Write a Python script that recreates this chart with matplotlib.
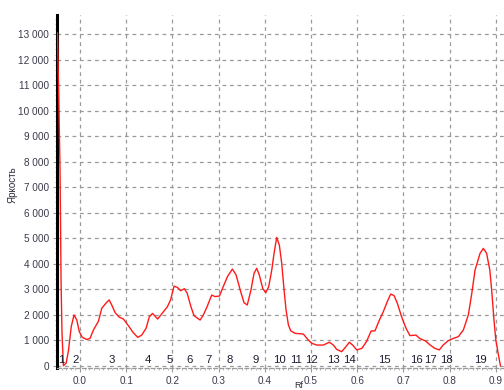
import matplotlib
matplotlib.use("Agg")
import matplotlib.pyplot as plt
from matplotlib.ticker import FuncFormatter, MultipleLocator

plt.rcParams['font.family'] = ['Liberation Sans', 'DejaVu Sans']

# Densitogram track: Rf position vs. brightness
rf = [-0.049, -0.046, -0.0433, -0.041, -0.039, -0.036, -0.030, -0.025, -0.019,
      -0.013, -0.007, -0.0015, 0.005, 0.0145, 0.0216, 0.029, 0.040, 0.047,
      0.056, 0.063, 0.0686, 0.076, 0.085, 0.094, 0.105, 0.115, 0.125, 0.1335,
      0.143, 0.150, 0.157, 0.168, 0.179, 0.189, 0.196, 0.2035, 0.2106, 0.218,
      0.2258, 0.232, 0.2396, 0.2468, 0.260, 0.267, 0.2756, 0.285, 0.292,
      0.3016, 0.310, 0.319, 0.3298, 0.3377, 0.3478, 0.355, 0.362, 0.370,
      0.3766, 0.3824, 0.388, 0.3955, 0.402, 0.4084, 0.415, 0.420, 0.4257,
      0.4314, 0.4366, 0.4416, 0.446, 0.451, 0.456, 0.4654, 0.4834, 0.494,
      0.5015, 0.512, 0.5266, 0.5397, 0.5483, 0.5556, 0.5664, 0.5757, 0.583,
      0.590, 0.599, 0.610, 0.620, 0.630, 0.6385, 0.648, 0.6565, 0.665,
      0.6725, 0.6797, 0.6868, 0.696, 0.7056, 0.714, 0.727, 0.736, 0.747,
      0.758, 0.768, 0.7777, 0.786, 0.797, 0.808, 0.819, 0.8297, 0.8405,
      0.848, 0.855, 0.866, 0.873, 0.880, 0.887, 0.891, 0.896, 0.900, 0.905,
      0.910]
brightness = [13050, 10500, 7670, 3230, 1270, 0, 100, 600, 1530,
              1990, 1790, 1330, 1110, 1030, 1070, 1400, 1750, 2250,
              2450, 2580, 2380, 2080, 1900, 1830, 1560, 1300, 1110, 1200,
              1470, 1920, 2050, 1830, 2080, 2310, 2580, 3120, 3070, 2940,
              3020, 2840, 2340, 1960, 1790, 1990, 2340, 2770, 2710,
              2730, 3100, 3490, 3790, 3560, 2900, 2470, 2380, 2970,
              3620, 3820, 3560, 3030, 2860, 3100, 3750, 4410, 5030,
              4730, 4010, 2970, 2180, 1600, 1370, 1270, 1240, 1010,
              880, 810, 810, 920, 810, 640, 550, 750, 920,
              810, 620, 680, 940, 1360, 1370, 1790, 2120, 2510,
              2810, 2750, 2450, 1920, 1470, 1180, 1200, 1060, 980,
              810, 680, 620, 810, 980, 1070, 1140, 1400, 1990,
              2840, 3750, 4410, 4600, 4410, 3750, 2970, 1790, 1010, 490,
              0]

# Numbered zones along the track
zone_labels = [str(i) for i in range(1, 20)]
zone_rf = [-0.0396, -0.0087, 0.0686, 0.1465, 0.1933, 0.238, 0.2777, 0.3247,
           0.380, 0.4307, 0.4675, 0.501, 0.5476, 0.583, 0.6587, 0.7288,
           0.759, 0.7937, 0.8658]

x_ticks = [0.0, 0.1, 0.2, 0.3, 0.4, 0.5, 0.6, 0.7, 0.8, 0.9]
y_ticks = list(range(0, 14000, 1000))

fig = plt.figure(figsize=(5.04, 3.90), dpi=100)
ax = fig.add_axes([57.3 / 504, 1 - 368 / 390, 1 - 57.3 / 504, (368 - 15) / 390])

ax.plot(rf, brightness, color='#ff1a1a', lw=1.0, zorder=3)

ax.set_xlim(-0.0492, 0.9177)
ax.set_ylim(-90, 13750)

ax.set_xticks(x_ticks)
ax.set_xticklabels([f"{t:.1f}" for t in x_ticks])
ax.set_yticks(y_ticks)
ax.yaxis.set_major_formatter(FuncFormatter(lambda v, p: f"{int(v):,}".replace(",", " ")))
ax.xaxis.set_minor_locator(MultipleLocator(0.01))
ax.yaxis.set_minor_locator(MultipleLocator(200))

ax.grid(True, which='major', color='#9a9a9a', linestyle=(0, (3, 3)), lw=0.9)
ax.set_axisbelow(True)

for s in ('top', 'right'):
    ax.spines[s].set_visible(False)
ax.spines['left'].set_color('black')
ax.spines['left'].set_linewidth(2.2)
ax.spines['bottom'].set_color('#9a9a9a')
ax.spines['bottom'].set_linewidth(0.9)
ax.spines['bottom'].set_linestyle((0, (3, 2)))

ax.tick_params(axis='both', which='major', labelsize=7.2, colors='#9a9a9a',
               labelcolor='#3a3a4a', length=3, width=0.8)
ax.tick_params(axis='y', which='major', pad=3)
ax.tick_params(axis='x', which='major', pad=2.5)
ax.tick_params(axis='both', which='minor', length=1.5, width=0.6, colors='#aaaaaa')

for lab, x in zip(zone_labels, zone_rf):
    ax.text(x, 220, lab, ha='center', va='center', fontsize=8.2,
            color='#1c1c30', zorder=4)

fig.text(13 / 504, 1 - 185 / 390, 'Яркость', rotation=90, ha='center',
         va='center', fontsize=7, color='#2a2a3a')
fig.text(299 / 504, 1 - 385.5 / 390, 'Rf', ha='center', va='center',
         fontsize=6.5, color='#2a2a3a')

fig.savefig('out.png', dpi=100)
